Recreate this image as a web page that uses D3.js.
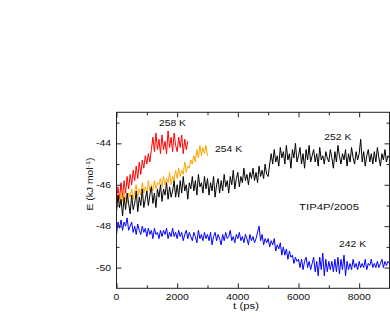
<!DOCTYPE html>
<html lang="en">
  <head>
    <meta charset="utf-8">
    <title>TIP4P/2005 energy</title>
    <script src="https://cdn.jsdelivr.net/npm/d3@7/dist/d3.min.js"></script>
    <style>
      body { margin: 0; background: #fff; }
    </style>
  </head>
  <body>
    <script>
      // every run is sampled every 50 ps
      var dt = 50

      // 258 K, 0 - 2350 ps
      var e258 = [
        -46.9, -46.1, -46.7, -45.9, -46.6, -45.8, -46.4, -45.6, -46.2, -45.5,
        -46.0, -45.3, -45.8, -45.1, -45.7, -44.9, -45.5, -44.8, -45.2, -44.6,
        -45.0, -44.5, -44.9, -44.3, -43.7, -44.4, -43.5, -44.3, -43.8, -44.5,
        -43.6, -44.3, -43.9, -44.5, -43.4, -44.2, -43.7, -44.4, -43.5, -44.1,
        -44.4, -43.7, -44.2, -43.6, -44.5, -43.8, -44.3, -43.9
      ]

      // 254 K, 0 - 3000 ps
      var e254 = [
        -47.0, -46.4, -46.9, -46.5, -46.8, -46.3, -46.7, -46.9, -46.4, -46.6,
        -46.2, -46.7, -46.3, -46.0, -46.6, -46.2, -46.5, -45.9, -46.4, -46.1,
        -46.4, -45.8, -46.3, -46.0, -46.3, -45.8, -46.2, -45.9, -46.0, -45.7,
        -46.1, -45.6, -46.0, -45.7, -45.9, -45.4, -46.0, -45.6, -45.8, -45.3,
        -45.7, -45.2, -45.6, -45.3, -45.5, -44.9, -45.4, -45.1, -45.2, -44.8,
        -45.0, -44.6, -44.9, -44.3, -44.7, -44.1, -44.6, -44.2, -44.5, -44.1,
        -44.6
      ]

      // 252 K, 0 - 9000 ps
      var e252 = [
        -47.3, -46.5, -47.1, -46.7, -47.5, -46.6, -47.2, -46.4, -46.9, -47.4,
        -46.5, -47.2, -46.9, -46.3, -47.3, -46.6, -47.0, -46.2, -47.1, -46.7,
        -46.3, -47.0, -46.5, -46.1, -46.9, -46.4, -47.1, -46.2, -46.6, -46.0,
        -46.8, -46.2, -46.5, -45.9, -46.7, -46.1, -46.6, -46.3, -45.8, -46.6,
        -46.0, -46.6, -45.8, -46.4, -45.6, -46.3, -46.0, -46.7, -45.9, -46.2,
        -45.6, -46.3, -45.8, -46.5, -45.5, -46.1, -45.9, -46.4, -45.6, -46.2,
        -45.7, -46.5, -45.9, -46.3, -45.6, -46.6, -46.0, -45.7, -46.4, -45.8,
        -46.3, -45.5, -46.1, -45.8, -46.4, -45.6, -46.0, -45.3, -46.2, -45.7,
        -45.4, -46.1, -45.6, -45.9, -45.2, -45.8, -45.5, -46.0, -45.4, -45.7,
        -45.2, -45.8, -45.4, -45.9, -45.1, -45.6, -45.3, -45.7, -45.0, -45.5,
        -45.6, -45.0, -44.5, -45.0, -44.3, -44.9, -44.6, -45.1, -44.2, -44.7,
        -44.4, -45.0, -44.1, -44.8, -44.5, -45.2, -44.3, -44.7, -44.0, -44.9,
        -44.6, -44.2, -45.0, -44.5, -45.2, -44.3, -44.8, -44.1, -44.9, -44.6,
        -44.3, -44.9, -44.5, -45.1, -44.2, -44.8, -44.6, -45.0, -44.4, -44.7,
        -44.9, -44.3, -44.7, -45.2, -44.4, -44.9, -44.1, -44.6, -45.0, -44.5,
        -44.8, -44.3, -45.1, -44.5, -44.9, -44.2, -44.7, -45.0, -44.4, -44.8,
        -44.5, -43.8, -44.9, -44.4, -45.1, -44.6, -44.3, -44.9, -44.5, -45.0,
        -44.4, -44.9, -44.2, -44.7, -45.1, -44.5, -44.8, -44.3, -44.9, -44.6,
        -44.7
      ]

      // 242 K, 0 - 9000 ps
      var e242 = [
        -48.4, -47.8, -48.1, -47.7, -48.2, -47.8, -48.0, -47.6, -48.2, -48.0,
        -47.8, -48.3, -48.0, -48.4, -47.9, -48.2, -48.4, -48.0, -48.3, -48.1,
        -48.5, -48.1, -48.4, -48.2, -48.6, -48.1, -48.4, -48.3, -48.6, -48.2,
        -48.5, -48.2, -48.4, -48.1, -48.6, -48.3, -48.5, -48.1, -48.5, -48.3,
        -48.6, -48.2, -48.5, -48.3, -48.7, -48.4, -48.2, -48.6, -48.3, -48.5,
        -48.7, -48.3, -48.5, -48.8, -48.2, -48.6, -48.4, -48.7, -48.3, -48.6,
        -48.4, -48.7, -48.3, -48.9, -48.5, -48.3, -48.7, -48.4, -48.6, -48.9,
        -48.4, -48.7, -48.3, -48.6, -48.5, -48.2, -48.7, -48.5, -48.8, -48.4,
        -48.6, -48.3, -48.7, -48.5, -48.8, -48.4, -48.6, -48.9, -48.4, -48.7,
        -48.5, -48.8, -48.6, -48.3, -48.0, -48.7, -48.4, -48.9, -48.6, -48.8,
        -48.6, -49.0, -48.7, -48.9, -48.6, -49.2, -48.9, -49.1, -48.8, -49.4,
        -49.0, -49.4, -49.1, -49.6, -49.2, -49.5, -49.4, -49.8, -49.5, -49.7,
        -49.6, -50.0, -49.6, -50.1, -49.7, -49.5, -50.0, -49.7, -50.1, -49.8,
        -49.5, -50.2, -49.7, -50.4, -49.5, -50.1, -49.3, -50.4, -49.6, -50.2,
        -49.7, -50.1, -49.7, -50.2, -49.6, -50.2, -49.5, -50.3, -49.6, -50.1,
        -49.4, -50.4, -49.7, -50.1, -49.8, -50.1, -49.6, -50.0, -49.8, -50.1,
        -49.7, -50.0, -49.8, -50.0, -49.6, -50.1, -49.8, -49.9, -49.6, -50.0,
        -49.8, -50.0, -49.7, -50.0, -49.8, -49.6, -50.0, -49.7, -49.9, -49.7,
        -49.8
      ]

      var series = [
        {name: '258 K', values: e258, color: '#ff0000'},
        {name: '254 K', values: e254, color: '#ffa500'},
        {name: '252 K', values: e252, color: '#000000'},
        {name: '242 K', values: e242, color: '#0000ff'}
      ]

      var xTicks = [0, 2000, 4000, 6000, 8000]
      var xMinor = [1000, 3000, 5000, 7000]
      var yTicks = [-50, -48, -46, -44]
      var yMinor = [-49, -47, -45, -43]

      // where the text notes sit, in data units
      var notes = [
        {text: '258 K', t: 1400, e: -43.16, size: 8.5},
        {text: '254 K', t: 3250, e: -44.40, size: 8.5},
        {text: '252 K', t: 6850, e: -43.84, size: 8.5},
        {text: 'TIP4P/2005', t: 6020, e: -47.22, size: 9.3},
        {text: '242 K', t: 7335, e: -48.99, size: 8.5}
      ]

      var width = 390, height = 327
      // plot frame (window.top is taken, hence the prefix)
      var fLeft = 116.5, fRight = 389.5, fTop = 112.3, fBottom = 288.3
      var stretch = 1.22 // the original lettering is wide

      var svg = d3.select('body').append('svg').attr('width', width).attr('height', height)

      var x = d3.scaleLinear().domain([0, 9000]).range([fLeft, fRight])
      var y = d3.scaleLinear().domain([-51, -42.5]).range([fBottom, fTop])

      // data lines, clipped to the frame
      svg.append('clipPath').attr('id', 'frame')
        .append('rect').attr('x', fLeft).attr('y', fTop)
        .attr('width', fRight - fLeft).attr('height', fBottom - fTop)

      var line = d3.line()
        .x(function(d, i) { return x(i * dt) })
        .y(function(d) { return y(d) })

      svg.append('g').attr('clip-path', 'url(#frame)')
        .selectAll('path').data(series).enter().append('path')
        .attr('d', function(s) { return line(s.values) })
        .attr('fill', 'none')
        .attr('stroke', function(s) { return s.color })
        .attr('stroke-width', 1)
        .attr('stroke-linejoin', 'round')

      // ticks on all four sides, pointing in
      function ticks(axis, vals, size, tx) {
        var g = svg.append('g').attr('transform', tx)
          .call(axis.tickValues(vals).tickSize(size).tickSizeOuter(0).tickFormat(''))
        g.select('.domain').remove()
        g.selectAll('line').attr('stroke', '#222')
        return g
      }
      ticks(d3.axisBottom(x), xTicks, -5, 'translate(0,' + fBottom + ')')
      ticks(d3.axisBottom(x), xMinor, -3, 'translate(0,' + fBottom + ')')
      ticks(d3.axisTop(x), xTicks, -5, 'translate(0,' + fTop + ')')
      ticks(d3.axisTop(x), xMinor, -3, 'translate(0,' + fTop + ')')
      ticks(d3.axisLeft(y), yTicks, -5, 'translate(' + fLeft + ',0)')
      ticks(d3.axisLeft(y), yMinor, -3, 'translate(' + fLeft + ',0)')
      ticks(d3.axisRight(y), yTicks, -5, 'translate(' + fRight + ',0)')
      ticks(d3.axisRight(y), yMinor, -3, 'translate(' + fRight + ',0)')

      svg.append('rect')
        .attr('x', fLeft).attr('y', fTop)
        .attr('width', fRight - fLeft).attr('height', fBottom - fTop)
        .attr('fill', 'none').attr('stroke', '#222').attr('stroke-width', 1)

      function label(px, py, str, size, anchor, rot) {
        return svg.append('text')
          .attr('transform', 'translate(' + px + ',' + py + ')' + (rot ? ' rotate(-90)' : '') + ' scale(' + stretch + ',1)')
          .attr('text-anchor', anchor)
          .attr('font-family', 'Liberation Sans, Arial, sans-serif')
          .attr('font-size', size)
          .attr('fill', '#111')
          .text(str)
      }

      xTicks.forEach(function(v) { label(x(v), 299.5, v, 8.5, 'middle') })
      yTicks.forEach(function(v) { label(fLeft - 5.5, y(v) + 3, v, 8.5, 'end') })

      label(246, 309, 't (ps)', 9.3, 'middle')

      // y title with the superscript
      var yt = label(93, 184, 'E (kJ mol', 8.5, 'middle', true)
      yt.append('tspan').attr('dy', -3.5).attr('font-size', 6).text('-1')
      yt.append('tspan').attr('dy', 3.5).text(')')

      notes.forEach(function(n) { label(x(n.t), y(n.e), n.text, n.size, 'start') })
    </script>
  </body>
</html>
